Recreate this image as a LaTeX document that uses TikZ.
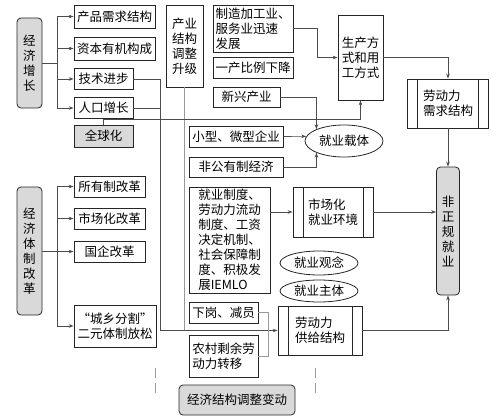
\documentclass[tikz,border=0pt]{standalone}
\usepackage{fontspec}
\setmainfont{Noto Sans CJK SC}
\usetikzlibrary{arrows.meta,shapes.geometric,calc}
\begin{document}
\begin{tikzpicture}[x=1pt,y=-1pt,
  every node/.style={font=\fontsize{12.5}{15}\selectfont},
  box/.style={draw=black!85, line width=0.8pt, inner sep=1pt, align=left},
  gbox/.style={box, fill=gray!30, rounded corners=4pt, align=center},
  sz/.style 2 args={minimum width=#1pt, minimum height=#2pt},
  proc/.style={box, path picture={\draw[black!85, line width=0.8pt]
      ([xshift=10pt]path picture bounding box.north west) -- ([xshift=10pt]path picture bounding box.south west)
      ([xshift=-10pt]path picture bounding box.north east) -- ([xshift=-10pt]path picture bounding box.south east);}},
  ell/.style={draw=black!85, line width=0.8pt, ellipse, inner sep=0pt},
  conn/.style={draw=black!70, line width=0.6pt},
  arr/.style={conn, -{Stealth[length=5pt,width=3.5pt]}},
  light/.style={draw=black!40, line width=0.6pt},
]
\useasboundingbox (0,0) rectangle (493,420);

% left column, upper group
\node[gbox, sz={25}{90}] (jjzz) at (29.5,63) {经\\济\\增\\长};
\node[box, sz={81}{23}] (cpxq) at (114.5,16.5) {产品需求结构};
\node[box, sz={81}{23}] (zbyj) at (114.5,48.5) {资本有机构成};
\node[box, sz={59}{21}] (jsjb) at (103.5,79) {技术进步};
\node[box, sz={59}{21}] (rkzz) at (103.5,108) {人口增长};
\node[box, fill=gray!30, align=center, sz={59}{22}] (qqh) at (103.5,136) {全球化};

% left column, lower group
\node[gbox, sz={25}{128}] (jjtz) at (29.5,251) {经\\济\\体\\制\\改\\革};
\node[box, sz={71}{21}] (syz) at (109.5,186.5) {所有制改革};
\node[box, sz={71}{21}] (schgg) at (109.5,218.5) {市场化改革};
\node[box, sz={71}{21}] (gqgg) at (109.5,251.5) {国企改革};
\node[box, align=center, sz={82}{42}] (cxfg) at (115,326) {“城乡分割”\\二元体制放松};

% middle column
\node[box, align=center, sz={37}{82}] (cyjg) at (184.5,46) {产业\\结构\\调整\\升级};
\node[box, sz={80}{47}] (zzjg) at (253,28.5) {制造加工业、\\服务业迅速\\发展};
\node[box, sz={80}{21}] (ycbl) at (253,67.5) {一产比例下降};
\node[box, sz={67}{20}] (xxcy) at (246.5,97) {新兴产业};
\node[box, sz={94}{21}] (xwqy) at (236,136.5) {小型、微型企业};
\node[box, sz={94}{20}] (fgy) at (236,167) {非公有制经济};
\node[box, inner sep=0.5pt, sz={81}{106}] (jyzd) at (229.5,240) {就业制度、\\劳动力流动\\制度、工资\\决定机制、\\社会保障制\\度、积极发\\展IEMLO};
\node[box, sz={69}{21}] (xgjy) at (223.5,312.5) {下岗、减员};
\node[box, sz={69}{42}] (ncsy) at (223.5,356) {农村剩余劳\\动力转移};
\node[gbox, sz={116}{30}] (jjjg) at (237,400) {经济结构调整变动};

% ellipses
\node[ell, sz={78}{32}] (jyzt) at (344,141) {就业载体};
\node[ell, sz={78}{24}] (jyln) at (319,263) {就业观念};
\node[ell, sz={78}{22}] (jyzti) at (319,291) {就业主体};

% right side
\node[box, sz={45}{85}] (scfs) at (360.5,57.5) {生产方\\式和用\\工方式};
\node[proc, sz={81}{49}] (ldxq) at (448,103.5) {劳动力\\需求结构};
\node[proc, sz={80}{50}] (schjy) at (333,212) {市场化\\就业环境};
\node[proc, sz={84}{49}] (ldgj) at (320,330.5) {劳动力\\供给结构};
\node[gbox, sz={23}{128}, inner sep=0pt] (fzgjy) at (448,231) {非\\正\\规\\就\\业};

% connectors: economic growth bus
\foreach \t in {cpxq,zbyj,jsjb,rkzz}
  \draw[arr] (jjzz.east) -- ++(15,0) |- (\t.west);
% economic system reform bus
\foreach \t in {syz,schgg,gqgg,cxfg}
  \draw[arr] (jjtz.east) -- ++(15,0) |- (\t.west);

% technology / population to labour supply
\draw[light] (cyjg.south) -- (cyjg.south |- ldgj.west);
\draw[arr] (jsjb.east) -- ++(27,0) |- (ldgj.west);
\draw[conn] (rkzz.east) -- ++(27,0);

% globalisation to production mode
\draw[arr] (qqh.north) -- ++(0,-5) -| (scfs.south);

% manufacturing to production mode
\draw[arr] (zzjg.east) -- ++(24,0) |- (scfs.west);

% employment carriers
\draw[arr] (xxcy.east) -| (jyzt.157);
\draw[arr] (xwqy.east) -- (jyzt.173);
\draw[arr] (fgy.east) -| (jyzt.203);

% demand side
\draw[arr] (scfs.east) -| (ldxq.north);
\draw[arr] (ldxq.south) -- (fzgjy.north);

% market environment
\draw[arr] (jyzd.east |- schjy.west) -- (schjy.west);
\draw[arr] (schjy.east) -- (schjy.east -| fzgjy.west);

% supply side
\draw[arr] (ldgj.east) -| (fzgjy.south);
\draw[light] (xgjy.east) -- ++(10,0) |- (ncsy.east);

% dashed marks
\coordinate (d1a) at (155,368); \coordinate (d1b) at (155,397);
\coordinate (d2a) at (315,368); \coordinate (d2b) at (315,397);
\draw[light, dash pattern=on 10pt off 5pt] (d1a) -- (d1b);
\draw[light, dash pattern=on 10pt off 5pt] (d2a) -- (d2b);
\end{tikzpicture}
\end{document}
